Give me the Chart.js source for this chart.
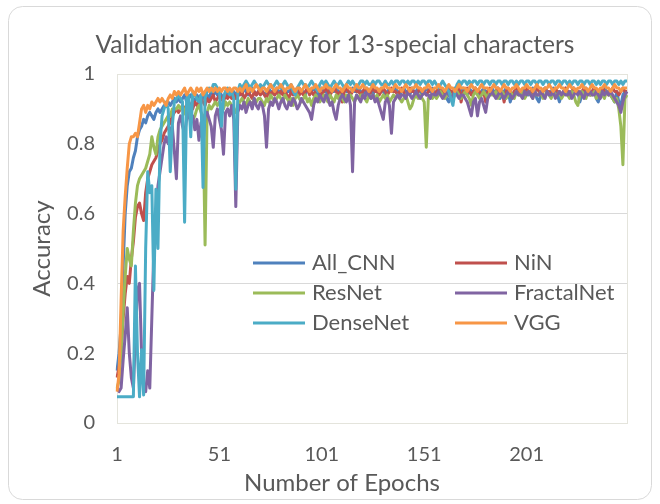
<!DOCTYPE html>
<html>
<head>
<meta charset="utf-8">
<script src="https://cdn.jsdelivr.net/npm/chart.js@4.4.1/dist/chart.umd.min.js"></script>
<style>
  html, body { margin: 0; padding: 0; background: #fff; }
  #wrap { position: relative; width: 660px; height: 504px; }
</style>
</head>
<body>
<div id="wrap"><canvas id="accChart" width="660" height="504"></canvas></div>
<script>
// epochs 1..250 on the category axis, labelled only every 50
const epochs = Array.from({ length: 250 }, (_, i) => i + 1);
const tickEpochs = [1, 51, 101, 151, 201];
const yTicks = [0, 0.2, 0.4, 0.6, 0.8, 1];

const chartTitle = 'Validation accuracy for 13-special characters';
const xTitle = 'Number of Epochs';
const yTitle = 'Accuracy';

const seriesNames = ['All_CNN', 'NiN', 'ResNet', 'FractalNet', 'DenseNet', 'VGG'];
const seriesColors = ['#4F81BD', '#C0504D', '#9BBB59', '#8064A2', '#4BACC6', '#F79646'];

const allCnn = [
  0.15, 0.20, 0.28, 0.45, 0.60, 0.68, 0.72, 0.73, 0.76, 0.78,
  0.82, 0.84, 0.85, 0.87, 0.86, 0.88, 0.89, 0.88, 0.87, 0.89,
  0.90, 0.89, 0.90, 0.91, 0.91, 0.92, 0.91, 0.92, 0.93, 0.92,
  0.93, 0.92, 0.93, 0.94, 0.92, 0.93, 0.94, 0.93, 0.92, 0.94,
  0.93, 0.94, 0.93, 0.95, 0.94, 0.93, 0.95, 0.94, 0.95, 0.94,
  0.95, 0.94, 0.93, 0.95, 0.94, 0.95, 0.94, 0.95, 0.94, 0.95,
  0.95, 0.94, 0.96, 0.95, 0.94, 0.95, 0.96, 0.95, 0.94, 0.95,
  0.96, 0.95, 0.94, 0.95, 0.96, 0.95, 0.95, 0.94, 0.96, 0.95,
  0.95, 0.96, 0.94, 0.95, 0.95, 0.96, 0.95, 0.94, 0.95, 0.96,
  0.95, 0.95, 0.94, 0.96, 0.95, 0.95, 0.96, 0.95, 0.94, 0.95,
  0.96, 0.95, 0.95, 0.94, 0.96, 0.95, 0.95, 0.96, 0.95, 0.94,
  0.95, 0.96, 0.95, 0.95, 0.94, 0.96, 0.95, 0.95, 0.96, 0.95,
  0.94, 0.95, 0.96, 0.95, 0.95, 0.94, 0.96, 0.95, 0.95, 0.96,
  0.95, 0.94, 0.95, 0.96, 0.95, 0.95, 0.96, 0.95, 0.94, 0.95,
  0.96, 0.95, 0.95, 0.94, 0.96, 0.95, 0.95, 0.96, 0.95, 0.94,
  0.95, 0.96, 0.95, 0.95, 0.96, 0.95, 0.94, 0.95, 0.96, 0.95,
  0.95, 0.93, 0.92, 0.94, 0.95, 0.96, 0.95, 0.94, 0.95, 0.96,
  0.95, 0.94, 0.96, 0.95, 0.95, 0.96, 0.95, 0.94, 0.95, 0.96,
  0.95, 0.95, 0.94, 0.96, 0.95, 0.95, 0.96, 0.93, 0.94, 0.95,
  0.96, 0.95, 0.92, 0.94, 0.95, 0.96, 0.95, 0.94, 0.95, 0.96,
  0.95, 0.94, 0.95, 0.96, 0.95, 0.93, 0.92, 0.94, 0.95, 0.96,
  0.95, 0.94, 0.95, 0.96, 0.95, 0.94, 0.92, 0.94, 0.95, 0.96,
  0.95, 0.94, 0.95, 0.96, 0.95, 0.95, 0.92, 0.94, 0.95, 0.96,
  0.95, 0.94, 0.95, 0.96, 0.93, 0.92, 0.94, 0.95, 0.96, 0.95,
  0.95, 0.94, 0.93, 0.92, 0.95, 0.92, 0.91, 0.94, 0.95, 0.95
];

const nin = [
  0.13, 0.16, 0.20, 0.30, 0.37, 0.42, 0.40, 0.47, 0.52, 0.59,
  0.62, 0.63, 0.60, 0.58, 0.66, 0.70, 0.72, 0.74, 0.75, 0.76,
  0.78, 0.80, 0.81, 0.83, 0.84, 0.85, 0.86, 0.88, 0.89, 0.90,
  0.89, 0.90, 0.91, 0.90, 0.91, 0.92, 0.91, 0.90, 0.92, 0.91,
  0.92, 0.93, 0.92, 0.91, 0.93, 0.92, 0.93, 0.94, 0.92, 0.93,
  0.94, 0.93, 0.92, 0.94, 0.93, 0.94, 0.93, 0.94, 0.93, 0.94,
  0.94, 0.95, 0.93, 0.94, 0.95, 0.94, 0.93, 0.95, 0.94, 0.95,
  0.94, 0.95, 0.94, 0.93, 0.95, 0.94, 0.95, 0.94, 0.95, 0.94,
  0.95, 0.94, 0.95, 0.94, 0.93, 0.95, 0.94, 0.95, 0.96, 0.94,
  0.95, 0.94, 0.95, 0.96, 0.94, 0.95, 0.94, 0.95, 0.96, 0.95,
  0.94, 0.95, 0.96, 0.95, 0.94, 0.95, 0.96, 0.95, 0.94, 0.95,
  0.92, 0.95, 0.96, 0.95, 0.94, 0.95, 0.96, 0.95, 0.95, 0.94,
  0.95, 0.96, 0.95, 0.94, 0.95, 0.96, 0.95, 0.95, 0.94, 0.95,
  0.96, 0.95, 0.94, 0.95, 0.96, 0.95, 0.95, 0.94, 0.95, 0.96,
  0.95, 0.93, 0.95, 0.96, 0.95, 0.95, 0.94, 0.95, 0.96, 0.95,
  0.95, 0.94, 0.95, 0.96, 0.95, 0.94, 0.95, 0.96, 0.95, 0.95,
  0.94, 0.95, 0.96, 0.95, 0.95, 0.94, 0.95, 0.96, 0.92, 0.95,
  0.95, 0.96, 0.95, 0.94, 0.95, 0.96, 0.95, 0.95, 0.94, 0.95,
  0.92, 0.95, 0.96, 0.95, 0.94, 0.95, 0.96, 0.95, 0.95, 0.92,
  0.95, 0.96, 0.95, 0.94, 0.95, 0.96, 0.95, 0.95, 0.94, 0.95,
  0.96, 0.95, 0.95, 0.94, 0.95, 0.96, 0.95, 0.94, 0.95, 0.96,
  0.95, 0.95, 0.94, 0.95, 0.96, 0.95, 0.95, 0.94, 0.95, 0.96,
  0.95, 0.94, 0.95, 0.96, 0.95, 0.95, 0.94, 0.95, 0.96, 0.95,
  0.95, 0.94, 0.95, 0.96, 0.95, 0.94, 0.95, 0.96, 0.95, 0.95,
  0.94, 0.95, 0.96, 0.95, 0.95, 0.94, 0.95, 0.96, 0.95, 0.95
];

const resNet = [
  0.10, 0.12, 0.20, 0.32, 0.42, 0.50, 0.47, 0.45, 0.55, 0.63,
  0.68, 0.70, 0.71, 0.72, 0.73, 0.75, 0.77, 0.82, 0.79, 0.77,
  0.82, 0.84, 0.85, 0.86, 0.87, 0.88, 0.88, 0.90, 0.90, 0.90,
  0.91, 0.90, 0.91, 0.89, 0.88, 0.90, 0.89, 0.87, 0.88, 0.90,
  0.91, 0.89, 0.88, 0.51, 0.89, 0.91, 0.90, 0.91, 0.92, 0.91,
  0.92, 0.91, 0.90, 0.92, 0.91, 0.92, 0.91, 0.90, 0.89, 0.91,
  0.92, 0.93, 0.92, 0.91, 0.93, 0.92, 0.91, 0.93, 0.92, 0.93,
  0.93, 0.92, 0.91, 0.93, 0.92, 0.94, 0.93, 0.92, 0.93, 0.94,
  0.93, 0.92, 0.94, 0.93, 0.92, 0.93, 0.91, 0.93, 0.94, 0.93,
  0.92, 0.93, 0.94, 0.92, 0.93, 0.91, 0.93, 0.94, 0.93, 0.92,
  0.93, 0.94, 0.93, 0.92, 0.94, 0.93, 0.92, 0.94, 0.93, 0.94,
  0.93, 0.92, 0.94, 0.93, 0.94, 0.93, 0.92, 0.94, 0.93, 0.94,
  0.94, 0.93, 0.92, 0.94, 0.93, 0.94, 0.93, 0.94, 0.92, 0.93,
  0.94, 0.93, 0.94, 0.92, 0.93, 0.94, 0.93, 0.94, 0.93, 0.92,
  0.93, 0.94, 0.92, 0.90, 0.91, 0.93, 0.94, 0.93, 0.94, 0.93,
  0.92, 0.79, 0.93, 0.94, 0.93, 0.94, 0.93, 0.94, 0.95, 0.94,
  0.93, 0.94, 0.95, 0.94, 0.93, 0.94, 0.95, 0.94, 0.93, 0.94,
  0.95, 0.94, 0.93, 0.91, 0.94, 0.95, 0.94, 0.93, 0.94, 0.95,
  0.94, 0.93, 0.95, 0.94, 0.94, 0.95, 0.93, 0.94, 0.95, 0.94,
  0.93, 0.94, 0.95, 0.94, 0.93, 0.95, 0.94, 0.94, 0.95, 0.93,
  0.94, 0.95, 0.94, 0.93, 0.95, 0.94, 0.94, 0.95, 0.93, 0.94,
  0.95, 0.94, 0.93, 0.95, 0.94, 0.94, 0.95, 0.93, 0.94, 0.95,
  0.94, 0.93, 0.95, 0.94, 0.92, 0.91, 0.94, 0.95, 0.94, 0.93,
  0.95, 0.94, 0.94, 0.95, 0.93, 0.94, 0.95, 0.94, 0.93, 0.95,
  0.94, 0.94, 0.93, 0.92, 0.93, 0.90, 0.85, 0.74, 0.93, 0.94
];

const fractalNet = [
  0.10, 0.09, 0.10, 0.18, 0.25, 0.33, 0.20, 0.13, 0.10, 0.25,
  0.38, 0.40, 0.20, 0.10, 0.09, 0.15, 0.10, 0.30, 0.50, 0.60,
  0.68, 0.72, 0.76, 0.80, 0.82, 0.80, 0.84, 0.85, 0.78, 0.70,
  0.86, 0.88, 0.85, 0.83, 0.87, 0.89, 0.86, 0.88, 0.84, 0.87,
  0.81, 0.86, 0.80, 0.88, 0.89, 0.87, 0.85, 0.79, 0.88, 0.90,
  0.87, 0.84, 0.77, 0.89, 0.90, 0.88, 0.91, 0.87, 0.62, 0.89,
  0.91, 0.90, 0.92, 0.89, 0.91, 0.92, 0.90, 0.93, 0.91, 0.90,
  0.92, 0.91, 0.88, 0.79, 0.90, 0.92, 0.91, 0.93, 0.92, 0.90,
  0.92, 0.93, 0.91, 0.90, 0.92, 0.91, 0.93, 0.92, 0.90, 0.91,
  0.93, 0.92, 0.91, 0.90, 0.89, 0.87, 0.91, 0.93, 0.92, 0.94,
  0.93, 0.92, 0.94, 0.93, 0.91, 0.92, 0.89, 0.87, 0.91, 0.93,
  0.94, 0.93, 0.92, 0.94, 0.91, 0.72, 0.92, 0.94, 0.93, 0.92,
  0.94, 0.93, 0.95, 0.94, 0.93, 0.94, 0.92, 0.93, 0.91, 0.89,
  0.87, 0.92, 0.93, 0.91, 0.83, 0.92, 0.93, 0.94, 0.93, 0.94,
  0.94, 0.93, 0.95, 0.94, 0.93, 0.94, 0.95, 0.94, 0.93, 0.94,
  0.95, 0.94, 0.94, 0.93, 0.95, 0.94, 0.94, 0.95, 0.94, 0.93,
  0.94, 0.95, 0.94, 0.93, 0.94, 0.95, 0.94, 0.93, 0.94, 0.94,
  0.93, 0.92, 0.90, 0.88, 0.92, 0.93, 0.88, 0.92, 0.93, 0.91,
  0.89, 0.93, 0.94, 0.95, 0.94, 0.93, 0.94, 0.95, 0.94, 0.93,
  0.94, 0.95, 0.94, 0.93, 0.94, 0.95, 0.94, 0.94, 0.93, 0.95,
  0.94, 0.95, 0.94, 0.93, 0.95, 0.94, 0.94, 0.95, 0.94, 0.93,
  0.95, 0.94, 0.94, 0.95, 0.93, 0.94, 0.95, 0.94, 0.95, 0.94,
  0.94, 0.95, 0.93, 0.94, 0.95, 0.94, 0.95, 0.94, 0.93, 0.95,
  0.94, 0.95, 0.94, 0.94, 0.95, 0.94, 0.93, 0.95, 0.94, 0.95,
  0.94, 0.95, 0.94, 0.93, 0.92, 0.91, 0.89, 0.92, 0.94, 0.95
];

const denseNet = [
  0.075, 0.075, 0.075, 0.075, 0.075, 0.075, 0.075, 0.075, 0.075, 0.45,
  0.20, 0.075, 0.21, 0.08, 0.50, 0.72, 0.66, 0.68, 0.38, 0.67,
  0.50, 0.80, 0.88, 0.90, 0.92, 0.90, 0.72, 0.85, 0.92, 0.93,
  0.94, 0.93, 0.92, 0.575, 0.93, 0.94, 0.82, 0.95, 0.94, 0.93,
  0.92, 0.94, 0.675, 0.93, 0.95, 0.96, 0.95, 0.97, 0.97, 0.96,
  0.95, 0.85, 0.93, 0.95, 0.96, 0.94, 0.95, 0.93, 0.67, 0.95,
  0.97, 0.96, 0.97, 0.98, 0.97, 0.96, 0.97, 0.98, 0.97, 0.96,
  0.97, 0.96, 0.97, 0.98, 0.97, 0.97, 0.96, 0.97, 0.98, 0.97,
  0.96, 0.97, 0.98, 0.97, 0.96, 0.97, 0.95, 0.94, 0.96, 0.97,
  0.98, 0.97, 0.97, 0.96, 0.97, 0.98, 0.97, 0.96, 0.95, 0.97,
  0.98, 0.97, 0.98, 0.97, 0.96, 0.97, 0.98, 0.97, 0.97, 0.98,
  0.97, 0.96, 0.97, 0.98, 0.97, 0.98, 0.97, 0.96, 0.97, 0.98,
  0.98, 0.97, 0.98, 0.97, 0.97, 0.98, 0.97, 0.98, 0.98, 0.97,
  0.97, 0.98, 0.97, 0.97, 0.98, 0.97, 0.98, 0.98, 0.97, 0.98,
  0.98, 0.97, 0.98, 0.97, 0.98, 0.98, 0.97, 0.98, 0.97, 0.98,
  0.98, 0.97, 0.98, 0.98, 0.97, 0.98, 0.97, 0.96, 0.97, 0.98,
  0.97, 0.96, 0.95, 0.93, 0.91, 0.95, 0.97, 0.98, 0.97, 0.98,
  0.98, 0.97, 0.98, 0.97, 0.98, 0.98, 0.97, 0.98, 0.98, 0.97,
  0.98, 0.98, 0.97, 0.98, 0.98, 0.97, 0.98, 0.98, 0.97, 0.98,
  0.98, 0.97, 0.98, 0.98, 0.97, 0.98, 0.97, 0.98, 0.98, 0.97,
  0.98, 0.98, 0.97, 0.98, 0.98, 0.97, 0.98, 0.98, 0.97, 0.98,
  0.98, 0.97, 0.98, 0.98, 0.97, 0.98, 0.98, 0.97, 0.98, 0.98,
  0.97, 0.98, 0.97, 0.98, 0.98, 0.97, 0.98, 0.98, 0.97, 0.98,
  0.98, 0.97, 0.98, 0.98, 0.97, 0.98, 0.97, 0.98, 0.98, 0.97,
  0.98, 0.98, 0.97, 0.98, 0.98, 0.97, 0.98, 0.97, 0.98, 0.98
];

const vgg = [
  0.09, 0.14, 0.35, 0.55, 0.65, 0.73, 0.80, 0.82, 0.82, 0.83,
  0.82, 0.86, 0.90, 0.91, 0.89, 0.91, 0.90, 0.92, 0.91, 0.92,
  0.93, 0.92, 0.93, 0.92, 0.91, 0.93, 0.94, 0.93, 0.95, 0.94,
  0.95, 0.94, 0.95, 0.96, 0.94, 0.95, 0.96, 0.95, 0.94, 0.96,
  0.95, 0.96, 0.94, 0.95, 0.96, 0.95, 0.96, 0.95, 0.96, 0.95,
  0.96, 0.95, 0.96, 0.96, 0.95, 0.96, 0.95, 0.96, 0.96, 0.95,
  0.96, 0.95, 0.96, 0.97, 0.95, 0.96, 0.95, 0.96, 0.97, 0.96,
  0.95, 0.96, 0.96, 0.95, 0.96, 0.97, 0.96, 0.95, 0.96, 0.96,
  0.97, 0.96, 0.95, 0.96, 0.96, 0.97, 0.96, 0.95, 0.96, 0.96,
  0.95, 0.96, 0.97, 0.96, 0.95, 0.96, 0.96, 0.97, 0.96, 0.95,
  0.96, 0.96, 0.97, 0.96, 0.96, 0.95, 0.96, 0.97, 0.96, 0.96,
  0.95, 0.96, 0.97, 0.96, 0.96, 0.95, 0.96, 0.97, 0.96, 0.96,
  0.97, 0.96, 0.96, 0.95, 0.96, 0.97, 0.96, 0.96, 0.95, 0.96,
  0.96, 0.97, 0.96, 0.96, 0.95, 0.96, 0.97, 0.96, 0.96, 0.95,
  0.96, 0.97, 0.96, 0.95, 0.96, 0.96, 0.97, 0.96, 0.96, 0.95,
  0.96, 0.96, 0.97, 0.96, 0.95, 0.96, 0.96, 0.97, 0.96, 0.96,
  0.95, 0.96, 0.97, 0.96, 0.96, 0.95, 0.96, 0.97, 0.96, 0.96,
  0.96, 0.95, 0.96, 0.97, 0.96, 0.96, 0.95, 0.96, 0.97, 0.96,
  0.96, 0.96, 0.95, 0.96, 0.97, 0.96, 0.96, 0.95, 0.96, 0.97,
  0.96, 0.96, 0.95, 0.96, 0.96, 0.97, 0.96, 0.95, 0.96, 0.96,
  0.97, 0.96, 0.96, 0.95, 0.96, 0.97, 0.96, 0.96, 0.95, 0.96,
  0.96, 0.97, 0.96, 0.95, 0.96, 0.96, 0.97, 0.96, 0.96, 0.95,
  0.96, 0.97, 0.96, 0.96, 0.95, 0.96, 0.96, 0.97, 0.96, 0.96,
  0.95, 0.96, 0.97, 0.96, 0.96, 0.95, 0.96, 0.96, 0.97, 0.96,
  0.96, 0.95, 0.96, 0.97, 0.96, 0.96, 0.95, 0.96, 0.96, 0.96
];

const seriesValues = [allCnn, nin, resNet, fractalNet, denseNet, vgg];

const textColor = '#595959';
const fontFamily = 'Lato, "Open Sans", sans-serif';

// outer rounded frame and plot-area border
const framePlugin = {
    id: 'frame',
    beforeDraw(chart) {
        const ctx = chart.ctx;
        ctx.save();
        ctx.strokeStyle = '#d9d9d9';
        ctx.lineWidth = 1;
        ctx.beginPath();
        ctx.roundRect(8.5, 6.5, 643, 493, 14);
        ctx.stroke();
        ctx.restore();
    },
    beforeDatasetsDraw(chart) {
        const a = chart.chartArea;
        const ctx = chart.ctx;
        ctx.save();
        ctx.strokeStyle = '#e4e4dc';
        ctx.lineWidth = 1;
        ctx.strokeRect(Math.round(a.left) + 0.5, Math.round(a.top) + 0.5,
            Math.round(a.right - a.left), Math.round(a.bottom - a.top));
        ctx.restore();
    }
};

// chart title and x-axis title, placed where the original puts them
const titlesPlugin = {
    id: 'titles',
    afterDraw(chart) {
        const ctx = chart.ctx;
        ctx.save();
        ctx.fillStyle = textColor;
        ctx.textAlign = 'center';
        ctx.textBaseline = 'middle';
        ctx.font = '24.5px ' + fontFamily;
        ctx.fillText(chartTitle, 335, 45);
        ctx.font = '24px ' + fontFamily;
        ctx.fillText(xTitle, 342, 483);
        ctx.restore();
    }
};

// two-column legend drawn inside the plot area
const legendPlugin = {
    id: 'insideLegend',
    afterDatasetsDraw(chart) {
        const ctx = chart.ctx;
        const colX = [253, 455];
        const rowY = [263, 293, 323];
        ctx.save();
        ctx.font = '22px ' + fontFamily;
        ctx.textBaseline = 'middle';
        ctx.fillStyle = textColor;
        ctx.lineWidth = 3;
        seriesNames.forEach((name, i) => {
            const x = colX[i % 2];
            const y = rowY[Math.floor(i / 2)];
            ctx.strokeStyle = seriesColors[i];
            ctx.beginPath();
            ctx.moveTo(x, y);
            ctx.lineTo(x + 52, y);
            ctx.stroke();
            ctx.fillText(name, x + 59, y);
        });
        ctx.restore();
    }
};

const ctx = document.getElementById('accChart').getContext('2d');

const accChart = new Chart(ctx, {
    type: 'line',
    data: {
        labels: epochs,
        datasets: seriesNames.map((name, i) => ({
            label: name,
            data: seriesValues[i],
            borderColor: seriesColors[i],
            backgroundColor: seriesColors[i],
            borderWidth: 3,
            pointRadius: 0,
            tension: 0,
            fill: false,
            borderJoinStyle: 'round',
            order: seriesNames.length - i
        }))
    },
    options: {
        responsive: false,
        animation: false,
        layout: {
            padding: { left: 0, right: 33, top: 74, bottom: 0 }
        },
        plugins: {
            legend: { display: false },
            tooltip: { enabled: false },
            title: { display: false }
        },
        scales: {
            x: {
                grid: { display: false },
                border: { display: false },
                ticks: {
                    autoSkip: false,
                    maxRotation: 0,
                    padding: 12,
                    color: textColor,
                    font: { family: fontFamily, size: 20 },
                    callback: function(value) {
                        const lab = this.getLabelForValue(value);
                        return tickEpochs.includes(lab) ? String(lab) : '';
                    }
                },
                title: { display: false },
                afterFit: s => { s.height = 81; }
            },
            y: {
                min: 0,
                max: 1,
                afterBuildTicks: s => { s.ticks = yTicks.map(v => ({ value: v })); },
                grid: { color: '#d9d9d9', drawTicks: false },
                border: { display: false },
                ticks: {
                    padding: 22,
                    color: textColor,
                    font: { family: fontFamily, size: 20 },
                    callback: v => String(v)
                },
                title: {
                    display: true,
                    text: yTitle,
                    color: textColor,
                    font: { family: fontFamily, size: 24 },
                    padding: { top: 27.6 }
                },
                afterFit: s => { s.width = 117; }
            }
        }
    },
    plugins: [framePlugin, titlesPlugin, legendPlugin]
});
</script>
</body>
</html>
